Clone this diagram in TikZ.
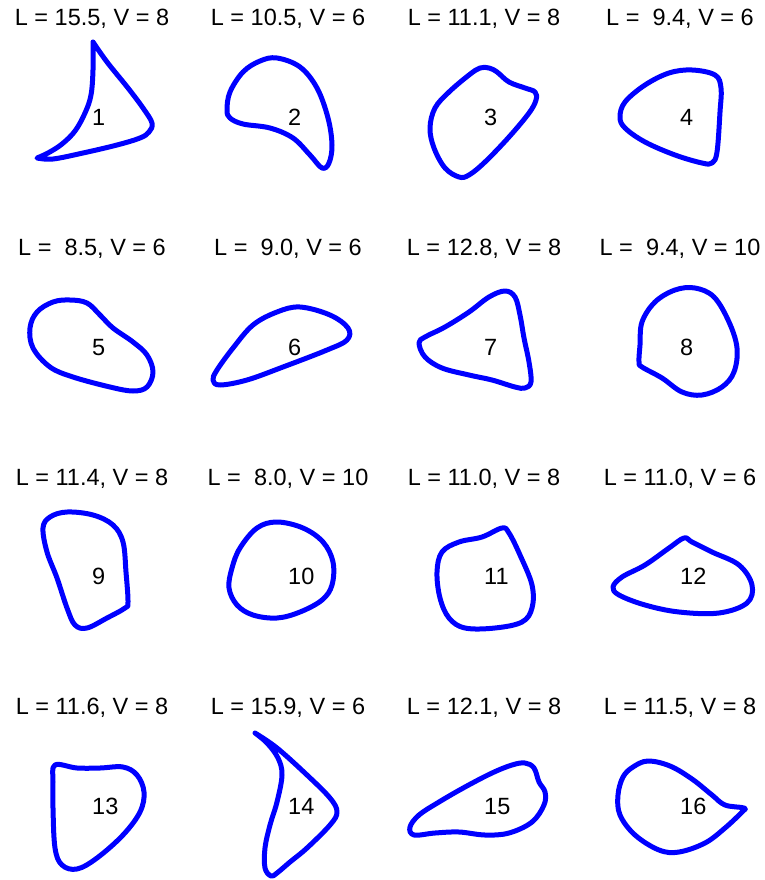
\documentclass[tikz,border=0pt]{standalone}
\usepackage{fontspec}
\setmainfont{Liberation Sans}
\usepackage{tikz}
\usetikzlibrary{positioning}
\definecolor{curveblue}{RGB}{0,0,255}
\tikzset{
  outline/.style={draw=curveblue,line width=5pt,line cap=round,line join=round},
  caption/.style={anchor=base,inner sep=0pt,font=\fontsize{23.5}{28}\selectfont},
  tag/.style={anchor=base west,inner sep=0pt,font=\fontsize{23.5}{28}\selectfont},
}
\begin{document}
\begin{tikzpicture}[x=1pt,y=-1pt]
  \useasboundingbox (0,0) rectangle (764,880);
  % titles, row by row
  \node[caption] (cap1) at (92,26) {L = 15.5, V = 8};
  \node[caption] (cap2) at (288,26) {L = 10.5, V = 6};
  \node[caption] (cap3) at (484,26) {L = 11.1, V = 8};
  \node[caption] (cap4) at (680,26) {L = \ 9.4, V = 6};
  \node[caption] (cap5) at (92,255) {L = \ 8.5, V = 6};
  \node[caption] (cap6) at (288,255) {L = \ 9.0, V = 6};
  \node[caption] (cap7) at (484,255) {L = 12.8, V = 8};
  \node[caption] (cap8) at (680,255) {L = \ 9.4, V = 10};
  \node[caption] (cap9) at (92,485) {L = 11.4, V = 8};
  \node[caption] (cap10) at (288,485) {L = \ 8.0, V = 10};
  \node[caption] (cap11) at (484,485) {L = 11.0, V = 8};
  \node[caption] (cap12) at (680,485) {L = 11.0, V = 6};
  \node[caption] (cap13) at (92,714) {L = 11.6, V = 8};
  \node[caption] (cap14) at (288,714) {L = 15.9, V = 6};
  \node[caption] (cap15) at (484,714) {L = 12.1, V = 8};
  \node[caption] (cap16) at (680,714) {L = 11.5, V = 8};
  % outlines
  \draw[outline] plot[smooth,tension=0.6] coordinates {(93,42) (107,62) (128,88) (143,108)
      (152,123) (149,132) (140,138) (117,145) (83,153) (53,159) (37,158)}
    -- plot[smooth,tension=0.6] coordinates {(37,158) (48,153) (62,144) (75,131) (85,113)
      (91,95) (93,70) (93,42)};
  \draw[outline] plot[smooth cycle,tension=0.6] coordinates {(277,58) (300,67) (317,88)
      (328,118) (332,145) (329,163) (322,168) (310,155) (293,138) (270,128) (243,124)
      (230,118) (227,110) (230,92) (243,72) (260,61)};
  \draw[outline] plot[smooth cycle,tension=0.6] coordinates {(489,68) (497,72) (509,82)
      (525,88) (535,92) (536,100) (529,113) (509,137) (485,162) (469,175) (459,177)
      (445,168) (434,148) (430,128) (435,108) (449,92) (469,75) (480,68)};
  \draw[outline] plot[smooth cycle,tension=0.6] coordinates {(692,70) (715,75) (721,88)
      (720,112) (717,152) (712,163) (702,163) (675,155) (645,142) (625,128) (620,117)
      (625,102) (645,85) (669,73)};
  \draw[outline] plot[smooth cycle,tension=0.6] coordinates {(70,300) (87,303) (100,315)
      (113,328) (133,342) (147,355) (153,372) (147,387) (133,391) (110,387) (73,377)
      (50,367) (33,348) (30,328) (37,312) (53,302)};
  \draw[outline] plot[smooth cycle,tension=0.6] coordinates {(300,307) (330,315) (348,328)
      (347,340) (327,350) (283,367) (247,380) (220,385) (213,380) (217,370) (233,348)
      (253,325) (277,312)};
  \draw[outline] plot[smooth cycle,tension=0.6] coordinates {(505,291) (515,297) (520,315)
      (524,338) (529,362) (531,382) (525,388) (515,387) (492,380) (469,375) (442,368)
      (425,357) (419,343) (425,337) (445,327) (469,312) (489,297)};
  \draw[outline] plot[smooth cycle,tension=0.6] coordinates {(695,288) (714,297) (729,322)
      (737,348) (734,372) (722,387) (702,395) (682,392) (662,378) (642,367) (639,362)
      (640,345) (642,322) (655,302) (675,290)};
  \draw[outline] plot[smooth cycle,tension=0.6] coordinates {(67,512) (93,515) (113,525)
      (123,542) (126,572) (128,602) (125,608) (107,618) (87,628) (75,625) (67,608)
      (57,578) (47,552) (43,528) (50,517)};
  \draw[outline] plot[smooth cycle,tension=0.6] coordinates {(277,522) (303,528) (323,542)
      (333,562) (332,585) (322,600) (300,612) (277,618) (253,615) (237,605) (229,588)
      (232,568) (240,548) (257,528)};
  \draw[outline] plot[smooth cycle,tension=0.6] coordinates {(502,528) (509,533) (520,555)
      (532,585) (532,608) (522,622) (495,628) (465,628) (449,618) (440,598) (437,572)
      (442,552) (459,542) (482,537)};
  \draw[outline] plot[smooth cycle,tension=0.6] coordinates {(684,538) (692,542) (712,552)
      (739,565) (752,585) (747,603) (719,613) (679,612) (645,605) (619,595) (613,587)
      (622,577) (645,565) (669,548)};
  \draw[outline] plot[smooth cycle,tension=0.6] coordinates {(55,765) (77,768) (100,768)
      (123,767) (137,775) (144,792) (140,812) (123,835) (97,858) (77,869) (62,865)
      (55,848) (53,808) (53,782)};
  \draw[outline] plot[smooth,tension=0.6] coordinates {(255,733) (267,743) (278,758)
      (282,775) (277,802) (270,825) (265,848) (265,868) (271,876) (277,873) (290,862)
      (307,848) (330,825) (337,812) (330,798) (307,775) (277,748) (255,733)};
  \draw[outline] plot[smooth cycle,tension=0.6] coordinates {(525,763) (534,768) (539,782)
      (545,792) (544,805) (532,822) (509,833) (485,835) (459,832) (435,833) (414,835)
      (410,827) (419,815) (439,802) (465,787) (492,773) (512,765)};
  \draw[outline] plot[smooth cycle,tension=0.6] coordinates {(648,761) (670,766) (692,779)
      (712,795) (725,805) (744,808) (742,812) (725,828) (705,843) (679,852) (659,850)
      (635,835) (620,815) (618,795) (623,777) (633,767)};
  % numbers
  \node[tag] (tag1) at (92,125) {1};
  \node[tag] (tag2) at (288,125) {2};
  \node[tag] (tag3) at (484,125) {3};
  \node[tag] (tag4) at (680,125) {4};
  \node[tag] (tag5) at (92,355) {5};
  \node[tag] (tag6) at (288,355) {6};
  \node[tag] (tag7) at (484,355) {7};
  \node[tag] (tag8) at (680,355) {8};
  \node[tag] (tag9) at (92,584) {9};
  \node[tag] (tag10) at (288,584) {10};
  \node[tag] (tag11) at (484,584) {11};
  \node[tag] (tag12) at (680,584) {12};
  \node[tag] (tag13) at (92,814) {13};
  \node[tag] (tag14) at (288,814) {14};
  \node[tag] (tag15) at (484,814) {15};
  \node[tag] (tag16) at (680,814) {16};
\end{tikzpicture}
\end{document}
